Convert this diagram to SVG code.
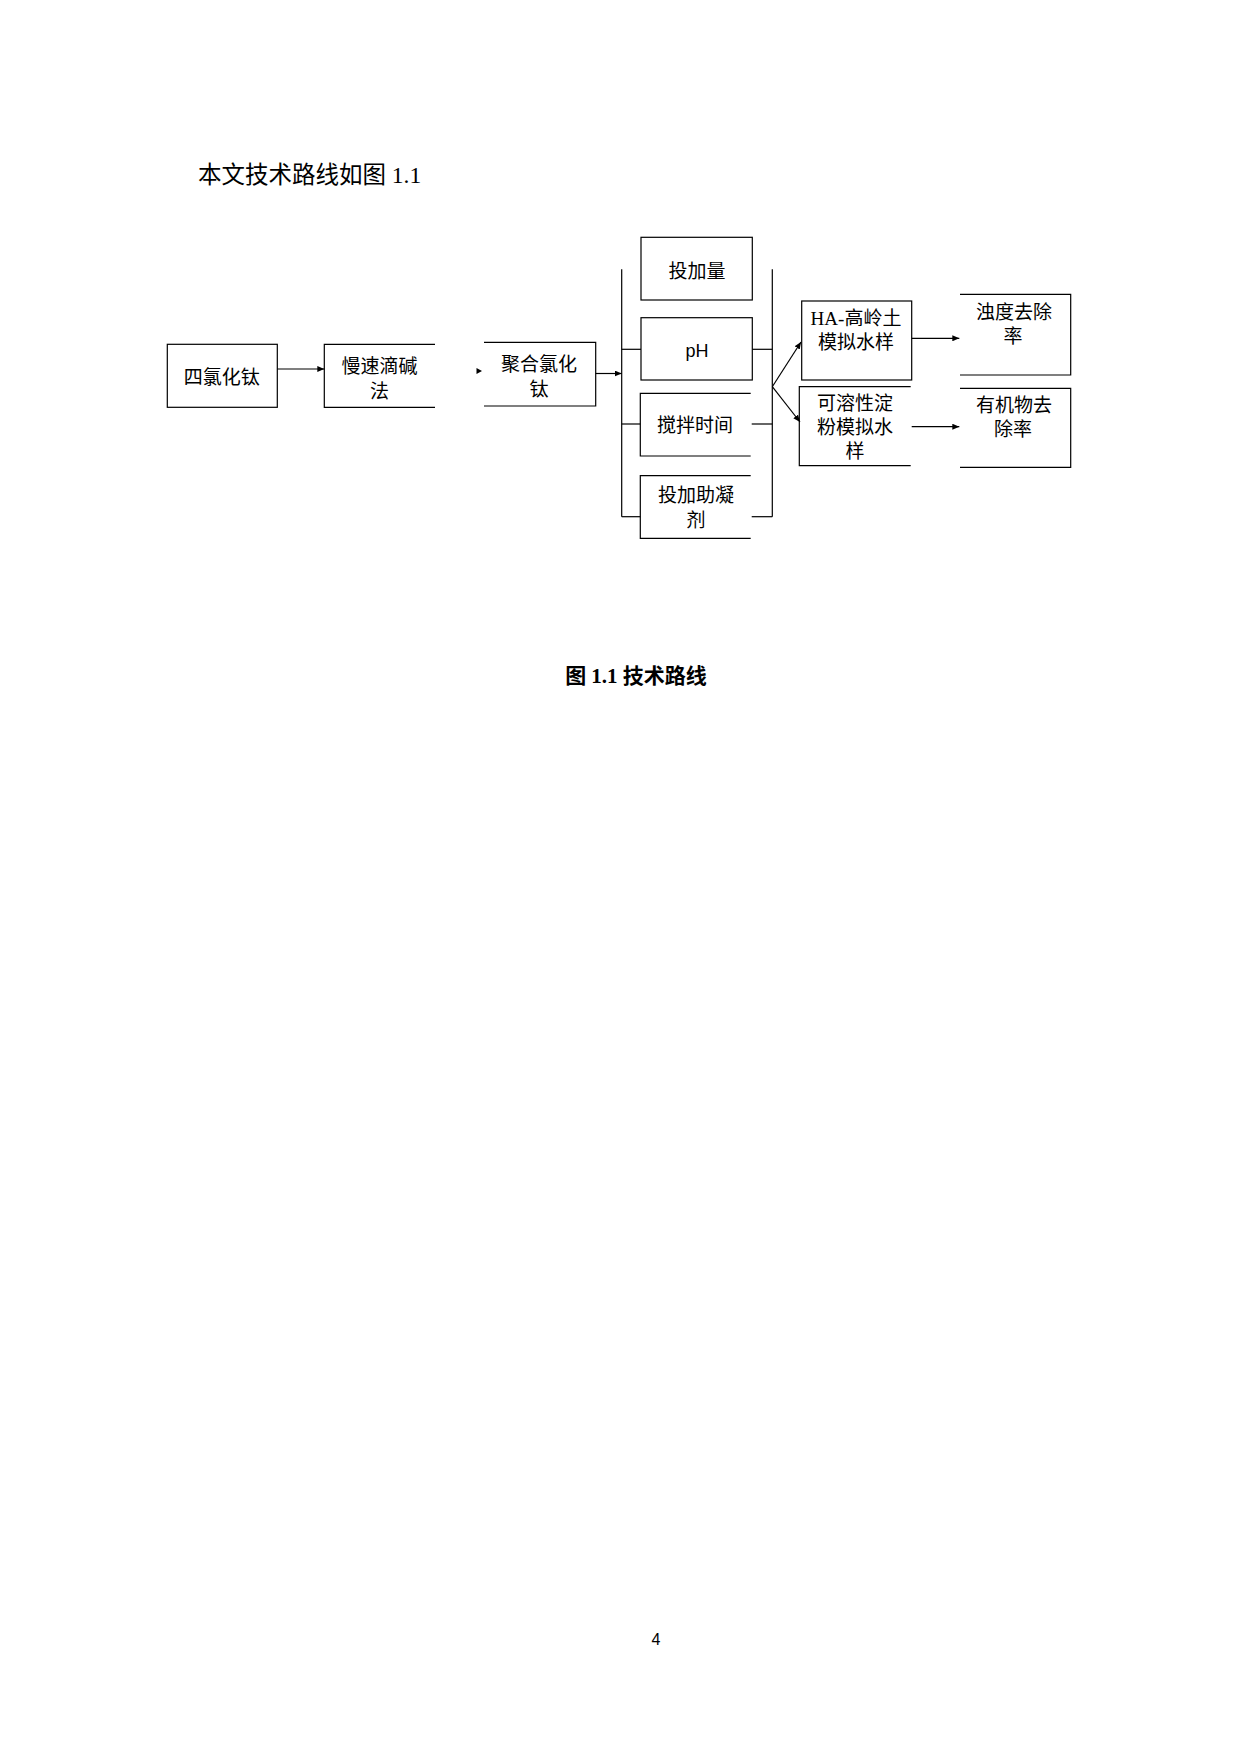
<svg xmlns="http://www.w3.org/2000/svg" width="1240" height="1754" viewBox="0 0 1240 1754">
<style>
.bx{fill:none;stroke:#000;stroke-width:1.2}
.ln{fill:none;stroke:#000;stroke-width:1.2}
.sans{font-family:"Noto Sans CJK SC","Liberation Sans",sans-serif;font-size:19px;fill:#000;text-anchor:middle}
.serif{font-family:"Liberation Serif","Noto Sans CJK SC",serif;font-size:19px;fill:#000;text-anchor:middle}
</style>
<defs>
<marker id="ah" markerUnits="userSpaceOnUse" markerWidth="8" markerHeight="6" refX="7" refY="3" orient="auto">
<path d="M0,0 L7,3 L0,6 z" fill="#000"/>
</marker>
</defs>
<rect width="1240" height="1754" fill="#fff"/>
<text x="198" y="183" font-family="Liberation Serif, Noto Sans CJK SC, serif" font-size="23.5">本文技术路线如图 1.1</text>

<g id="n1"><rect class="bx" x="167.3" y="344.3" width="110" height="63"/><text class="sans" x="221.7" y="384">四氯化钛</text></g>
<g id="n2"><path class="bx" d="M435,344.3 H324.3 V407.3 H435"/><text class="sans" x="379.5" y="373">慢速滴碱</text><text class="sans" x="379.5" y="398">法</text></g>
<g id="n3"><path class="bx" d="M484,342.3 H595.7 V406 H484"/><text class="sans" x="539" y="370.5">聚合氯化</text><text class="sans" x="539" y="395.5">钛</text></g>
<g id="n4"><rect class="bx" x="641" y="237.3" width="111.3" height="62.7"/><text class="sans" x="697" y="278">投加量</text></g>
<g id="n5"><rect class="bx" x="641" y="317.7" width="111.3" height="62.3"/><text x="697" y="357" font-family="Liberation Sans, sans-serif" font-size="18" text-anchor="middle">pH</text></g>
<g id="n6"><path class="bx" d="M750.7,393.3 H640.3 V456 H750.7"/><text class="sans" x="695" y="432">搅拌时间</text></g>
<g id="n7"><path class="bx" d="M750.7,475.7 H640.3 V538.3 H750.7"/><text class="sans" x="696" y="502">投加助凝</text><text class="sans" x="696" y="527">剂</text></g>
<g id="n8"><rect class="bx" x="801.7" y="301" width="110" height="79"/><text class="serif" x="856" y="325">HA-高岭土</text><text class="serif" x="856" y="349">模拟水样</text></g>
<g id="n9"><path class="bx" d="M910.7,386.7 H799.3 V465.7 H910.7"/><text class="serif" x="855" y="410">可溶性淀</text><text class="serif" x="855" y="434">粉模拟水</text><text class="serif" x="855" y="458">样</text></g>
<g id="n10"><path class="bx" d="M960,294.3 H1070.7 V375 H960"/><text class="serif" x="1014" y="318.5">浊度去除</text><text class="serif" x="1013" y="342.5">率</text></g>
<g id="n11"><path class="bx" d="M960,388.3 H1070.7 V467.3 H960"/><text class="serif" x="1014" y="411.5">有机物去</text><text class="serif" x="1013" y="435.5">除率</text></g>

<g id="connectors">
<line class="ln" x1="277.3" y1="369" x2="324.3" y2="369" marker-end="url(#ah)"/>
<polygon points="476.5,368 482,371 476.5,374" fill="#000"/>
<line class="ln" x1="595.7" y1="373.5" x2="621.7" y2="373.5" marker-end="url(#ah)"/>
<line class="ln" x1="621.7" y1="269.3" x2="621.7" y2="516.7"/>
<line class="ln" x1="621.7" y1="349.3" x2="641" y2="349.3"/>
<line class="ln" x1="621.7" y1="424" x2="640.3" y2="424"/>
<line class="ln" x1="621.7" y1="516.7" x2="640.3" y2="516.7"/>
<line class="ln" x1="772.3" y1="269.3" x2="772.3" y2="516.7"/>
<line class="ln" x1="752.3" y1="349.3" x2="772.3" y2="349.3"/>
<line class="ln" x1="751.7" y1="424" x2="772.3" y2="424"/>
<line class="ln" x1="751.7" y1="516.7" x2="772.3" y2="516.7"/>
<line class="ln" x1="772.3" y1="386.7" x2="801" y2="342" marker-end="url(#ah)"/>
<line class="ln" x1="772.3" y1="386.7" x2="800" y2="422" marker-end="url(#ah)"/>
<line class="ln" x1="911.7" y1="338.3" x2="959.3" y2="338.3" marker-end="url(#ah)"/>
<line class="ln" x1="911.7" y1="426.7" x2="959.3" y2="426.7" marker-end="url(#ah)"/>
</g>

<text x="636" y="683" font-family="Liberation Serif, Noto Sans CJK SC, serif" font-size="21" font-weight="bold" text-anchor="middle">图 1.1 技术路线</text>
<text x="656" y="1645" font-family="Liberation Sans, sans-serif" font-size="16" text-anchor="middle">4</text>
</svg>
